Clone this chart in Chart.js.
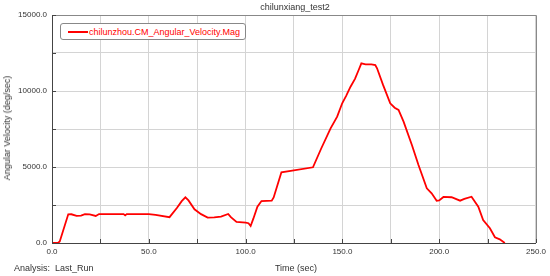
<!DOCTYPE html>
<html>
<head>
<meta charset="utf-8">
<script src="https://cdn.jsdelivr.net/npm/chart.js@4/dist/chart.umd.min.js"></script>
<style>
  html, body { margin: 0; padding: 0; background: #fff; }
  #wrap { position: relative; width: 550px; height: 276px; overflow: hidden; font-family: 'Liberation Sans', Arial, sans-serif; }
  #c { position: absolute; left: 0; top: 0; }
  .lbl { position: absolute; font-size: 9px; line-height: 12px; color: #333; white-space: nowrap; }
  #title { left: 0; width: 590px; top: 1px; text-align: center; }
  #ytitle { left: 7px; top: 128px; transform: translate(-50%, -50%) rotate(-90deg); transform-origin: center; }
  #xtitle { left: 0; width: 592px; top: 262px; text-align: center; }
  #analysis { left: 14px; top: 262px; }
  #legend { position: absolute; left: 60px; top: 23px; width: 186px; height: 17px; box-sizing: border-box;
            border: 1px solid #888; border-radius: 3px; background: #fff; }
  #legend .swatch { position: absolute; left: 7px; top: 7px; width: 20px; height: 2px; background: #ff0000; }
  #legend .txt { position: absolute; left: 28px; top: 2px; font-size: 9px; line-height: 12px; color: #ff0000; white-space: nowrap; }
</style>
</head>
<body>
<div id="wrap">
  <canvas id="c" width="550" height="276"></canvas>
  <div class="lbl" id="title">chilunxiang_test2</div>
  <div class="lbl" id="ytitle">Angular Velocity (deg/sec)</div>
  <div class="lbl" id="xtitle">Time (sec)</div>
  <div class="lbl" id="analysis">Analysis:&nbsp; Last_Run</div>
  <div id="legend"><div class="swatch"></div><div class="txt">chilunzhou.CM_Angular_Velocity.Mag</div></div>
</div>
<script>
const chartTitle = "chilunxiang_test2";
const seriesName = "chilunzhou.CM_Angular_Velocity.Mag";
const timeValues = [
  0, 3, 4, 8.4, 10, 12.7, 15, 17, 19.5, 22.6, 24.3, 30, 37, 37.8, 38.6, 50,
  53.5, 60.7, 64.5, 67, 68.9, 70.5, 73.6, 77, 80.4, 83.8, 87.3, 91, 92.4, 95.3,
  100.1, 101.5, 102.6, 104, 106.1, 108.2, 113.5, 114.5, 118.5, 124.1, 134.8,
  139, 143.9, 147.3, 149.9, 152, 154.2, 156.5, 158.4, 159.8, 162, 165, 167,
  167.9, 171, 174.7, 177, 179, 181.6, 185.9, 189.3, 193.6, 196.1, 198.7, 200,
  202.2, 206.4, 210.8, 213, 216.7, 220.2, 222.7, 226.2, 228.8, 231.3, 233.9
];
const velocityValues = [
  0, 0, 100, 1888, 1890, 1780, 1800, 1905, 1890, 1780, 1905, 1905, 1900, 1820, 1900, 1900,
  1850, 1700, 2300, 2750, 3000, 2800, 2220, 1900, 1670, 1690, 1740, 1910, 1700, 1390,
  1340, 1300, 1120, 1600, 2390, 2760, 2790, 3000, 4650, 4760, 4980,
  6200, 7546, 8310, 9191, 9700, 10283, 10800, 11382, 11822, 11750, 11750, 11711,
  11494, 10400, 9191, 8900, 8750, 7981, 6447, 5132, 3599, 3270, 2780, 2800,
  3030, 3010, 2783, 2900, 3046, 2388, 1513, 967, 375, 243, 0
];
const xTickLabels = ["0.0", "50.0", "100.0", "150.0", "200.0", "250.0"];
const yTickLabels = ["0.0", "5000.0", "10000.0", "15000.0"];

const points = timeValues.map((t, i) => ({ x: t, y: velocityValues[i] }));

const frameAndTicks = {
  id: 'frameAndTicks',
  afterDraw(chart) {
    const { ctx, chartArea: a, scales } = chart;
    ctx.save();
    ctx.strokeStyle = '#888';
    ctx.lineWidth = 1;
    ctx.beginPath();
    ctx.moveTo(a.left, a.top + 0.5); ctx.lineTo(a.right + 0.5, a.top + 0.5);
    ctx.lineTo(a.right + 0.5, a.bottom);
    ctx.stroke();
    ctx.strokeStyle = '#444';
    ctx.beginPath();
    scales.x.ticks.forEach(t => {
      const px = Math.round(scales.x.getPixelForValue(t.value)) + 0.5;
      ctx.moveTo(px, a.bottom); ctx.lineTo(px, a.bottom - 4);
    });
    scales.y.ticks.forEach(t => {
      const py = Math.round(scales.y.getPixelForValue(t.value)) + 0.5;
      ctx.moveTo(a.left, py); ctx.lineTo(a.left + 4, py);
    });
    ctx.stroke();
    ctx.restore();
  }
};

new Chart(document.getElementById('c'), {
  type: 'line',
  data: {
    datasets: [{
      label: seriesName,
      data: points,
      borderColor: '#ff0000',
      borderWidth: 1.8,
      pointRadius: 0,
      tension: 0,
      fill: false
    }]
  },
  options: {
    responsive: false,
    animation: false,
    devicePixelRatio: 1,
    layout: { padding: { top: 15, right: 12, left: 0, bottom: 0 } },
    plugins: { legend: { display: false }, title: { display: false }, tooltip: { enabled: false } },
    scales: {
      x: {
        type: 'linear', min: 0, max: 250,
        afterFit(s) { s.height = 33; },
        ticks: {
          stepSize: 25, padding: 4, color: '#333', maxRotation: 0, autoSkip: false,
          font: { family: 'Liberation Sans', size: 8 },
          callback: (v) => (v % 50 === 0 ? xTickLabels[v / 50] : '')
        },
        grid: { color: '#d4d4d4', drawTicks: false },
        border: { color: '#444', width: 1 }
      },
      y: {
        type: 'linear', min: 0, max: 15000,
        afterFit(s) { s.width = 52; },
        ticks: {
          stepSize: 2500, padding: 5, color: '#333', autoSkip: false,
          font: { family: 'Liberation Sans', size: 8 },
          callback: (v) => (v % 5000 === 0 ? yTickLabels[v / 5000] : '')
        },
        grid: { color: '#d4d4d4', drawTicks: false },
        border: { color: '#444', width: 1 }
      }
    }
  },
  plugins: [frameAndTicks]
});
</script>
</body>
</html>
